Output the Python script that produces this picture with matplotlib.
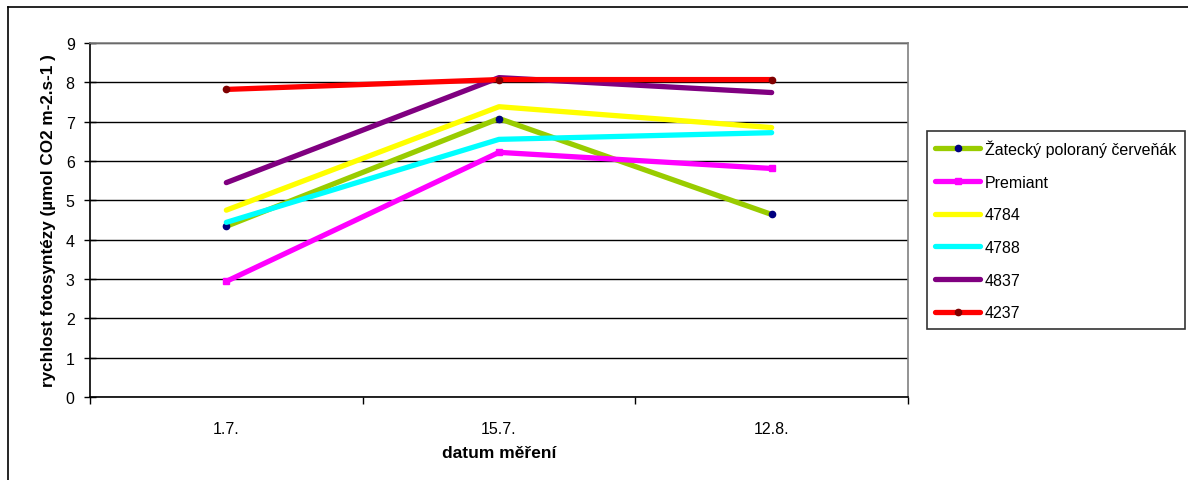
import matplotlib
matplotlib.use("Agg")
import matplotlib.pyplot as plt
from matplotlib.lines import Line2D

plt.rcParams['font.family'] = ['Liberation Sans', 'DejaVu Sans']

dates = ["1.7.", "15.7.", "12.8."]
zatecky = [4.34, 7.08, 4.64]
premiant = [2.94, 6.22, 5.81]
v4784 = [4.75, 7.38, 6.85]
v4788 = [4.44, 6.55, 6.72]
v4837 = [5.45, 8.12, 7.74]
v4237 = [7.82, 8.07, 8.07]

series = [
    ("Žatecký poloraný červeňák", zatecky, "#99cc00", "o", "#000080"),
    ("Premiant", premiant, "#ff00ff", "s", "#ff00ff"),
    ("4784", v4784, "#ffff00", None, None),
    ("4788", v4788, "#00ffff", None, None),
    ("4837", v4837, "#800080", None, None),
    ("4237", v4237, "#ff0000", "o", "#800000"),
]

W, H = 1188, 481
fig = plt.figure(figsize=(W / 100, H / 100), dpi=100)
ax = fig.add_axes([90 / W, 1 - 398 / H, (908 - 90) / W, (398 - 44) / H])

x = list(range(len(dates)))
handles = []
for name, vals, col, mk, mcol in series:
    ln, = ax.plot(x, vals, color=col, lw=3.8, solid_capstyle='round',
                  marker=mk, markersize=4.5 if mk else 0,
                  markerfacecolor=mcol, markeredgecolor=mcol, label=name, zorder=3)
    handles.append(ln)

ax.set_xlim(-0.5, 2.5)
ax.set_ylim(0, 9)
ax.set_yticks(range(0, 10))
ax.yaxis.grid(True, color='black', lw=1.0)
ax.set_axisbelow(True)
ax.set_xticks(x)
ax.set_xticklabels(dates, fontsize=11.5)
ax.set_xticks([-0.5, 0.5, 1.5, 2.5], minor=True)
ax.tick_params(axis='x', which='major', length=0, pad=17)
ax.tick_params(axis='x', which='minor', length=5, direction='out', width=1)
ax.tick_params(axis='y', length=8, direction='inout', width=1, labelsize=11.5, pad=7)

for s in ['left', 'bottom']:
    ax.spines[s].set_color('black')
    ax.spines[s].set_linewidth(1.2)
for s in ['top', 'right']:
    ax.spines[s].set_color('#808080')
    ax.spines[s].set_linewidth(1.2)

ax.set_ylabel("rychlost fotosyntézy (µmol CO2 m-2.s-1 )", fontsize=12.3,
              fontweight='bold', labelpad=7)
ax.set_xlabel("datum měření", fontsize=12.5, fontweight='bold', labelpad=7)

leg = ax.legend(handles=handles, loc='upper left',
                bbox_to_anchor=(927 / W, 1 - 132 / H),
                bbox_transform=fig.transFigure,
                frameon=True, fancybox=False, fontsize=11.5,
                handlelength=2.8, handletextpad=0.3, labelspacing=1.11,
                borderpad=0.52, borderaxespad=0)
leg.get_frame().set_edgecolor('black')
leg.get_frame().set_linewidth(1.2)

# outer chart frame
fig.add_artist(Line2D([8 / W, 1.0], [1 - 8 / H, 1 - 8 / H], color='black', lw=1.2))
fig.add_artist(Line2D([8 / W, 8 / W], [0.0, 1 - 8 / H], color='black', lw=1.2))

fig.savefig("out.png", dpi=100, facecolor='white')
